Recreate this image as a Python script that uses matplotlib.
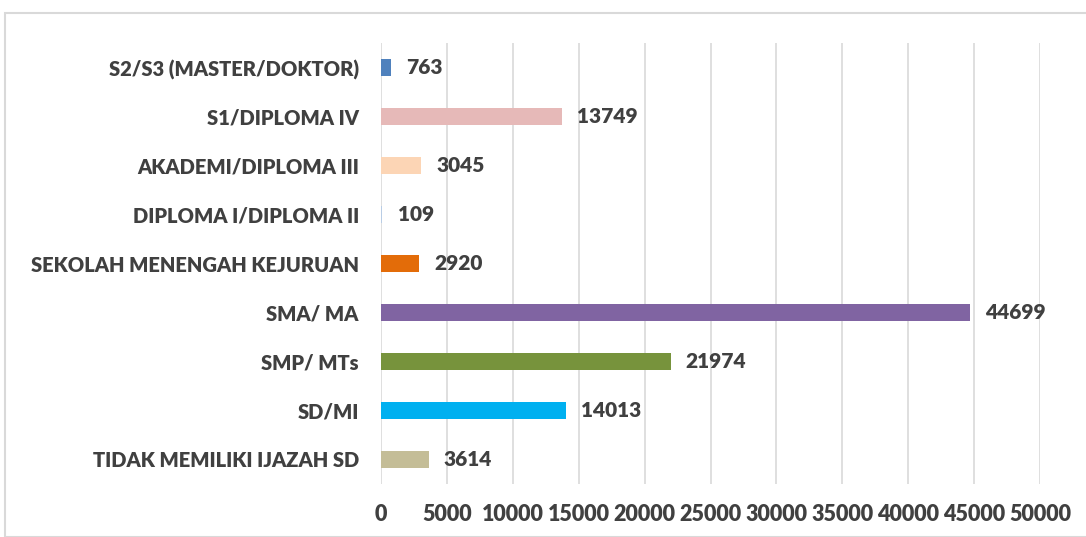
import numpy as np
import matplotlib.pyplot as plt
from matplotlib.patches import Rectangle

categories = ['TIDAK MEMILIKI IJAZAH SD', 'SD/MI', 'SMP/ MTs', 'SMA/ MA',
              'SEKOLAH MENENGAH KEJURUAN', 'DIPLOMA I/DIPLOMA II',
              'AKADEMI/DIPLOMA III', 'S1/DIPLOMA IV', 'S2/S3 (MASTER/DOKTOR)']
values = [3614, 14013, 21974, 44699, 2920, 109, 3045, 13749, 763]
colors = ['#C4BD97', '#00B0F0', '#77933C', '#8064A2', '#E36C09',
          '#B9CDE5', '#FCD5B5', '#E6B9B8', '#4F81BD']
xticks = np.arange(0, 50001, 5000)

plt.rcParams['font.family'] = ['Lato', 'DejaVu Sans']
txt = '#404040'
wt = 'heavy'

fig = plt.figure(figsize=(10.86, 5.37), dpi=100)
fig.patches.append(Rectangle((5/1086, 0), 1.1, 1 - 13/537, transform=fig.transFigure,
                             fill=False, edgecolor='#D9D9D9', lw=1.5))
ax = fig.add_axes([381/1086, 53.5/537, 659/1086, 440/537])

y = np.arange(len(categories))
ax.barh(y, values, height=0.35, color=colors, zorder=2)
for yi, v in zip(y, values):
    ax.text(v + 1150, yi, str(v), va='center', ha='left', fontsize=15,
            fontweight=wt, color=txt)

ax.set_xlim(0, 50000)
ax.set_ylim(-0.5, len(categories) - 0.5)
ax.set_yticks(y)
ax.set_yticklabels(categories, fontsize=14.5, fontweight=wt, color=txt)
ax.set_xticks(xticks)
ax.set_xticklabels([str(t) for t in xticks], fontsize=15.5, fontweight=wt, color=txt)
ax.tick_params(length=0)
ax.tick_params(axis='y', pad=16)
ax.tick_params(axis='x', pad=15)
ax.grid(axis='x', color='#D9D9D9', lw=1.2, zorder=0)
for s in ax.spines.values():
    s.set_visible(False)

fig.savefig('out.png', dpi=100)
